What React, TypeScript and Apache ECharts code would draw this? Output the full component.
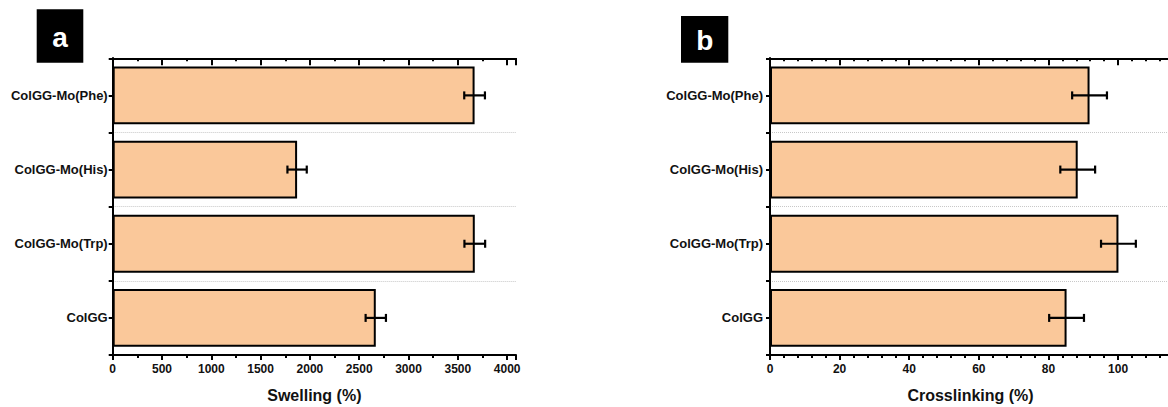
import React, { useEffect, useRef } from "react";
import * as echarts from "echarts";

const categories = ["ColGG", "ColGG-Mo(Trp)", "ColGG-Mo(His)", "ColGG-Mo(Phe)"];
const swellingMean = [2668, 3672, 1870, 3670];
const swellingErr = [103, 105, 98, 105];
const crossMean = [85.2, 100.1, 88.4, 91.8];
const crossErr = [5.0, 5.0, 5.0, 5.0];
const swellingTicks = { min: 0, max: 4090, major: 500, minor: 250 };
const crossTicks = { min: 0, max: 115.2, major: 20, minor: 4 };
const panelLetters = ["a", "b"];

const FONT = "Liberation Sans, Arial, Helvetica, sans-serif";
const BAR_FILL = "#FAC89A";

function errorRender(params: any, api: any) {
  const v = api.value(0);
  const c = api.value(1);
  const e = api.value(2);
  const lo = api.coord([v - e, c]);
  const hi = api.coord([v + e, c]);
  const h = 4;
  const st = { stroke: "#000", lineWidth: 2.2 };
  return {
    type: "group",
    children: [
      { type: "line", shape: { x1: lo[0], y1: lo[1], x2: hi[0], y2: hi[1] }, style: st },
      { type: "line", shape: { x1: lo[0], y1: lo[1] - h, x2: lo[0], y2: lo[1] + h }, style: st },
      { type: "line", shape: { x1: hi[0], y1: hi[1] - h, x2: hi[0], y2: hi[1] + h }, style: st },
    ],
  };
}

function xAxes(gridIndex: number, t: any, name: string) {
  const base = { type: "value", gridIndex, min: t.min, max: t.max, splitLine: { show: false } };
  const line = { show: true, lineStyle: { color: "#000", width: 2 } };
  return [
    {
      ...base,
      position: "bottom",
      interval: t.major,
      axisLine: line,
      axisTick: { show: true, length: 5, lineStyle: { color: "#000", width: 2 } },
      axisLabel: {
        show: true,
        margin: 8,
        fontFamily: FONT,
        fontWeight: "bold",
        fontSize: 12,
        color: "#111",
        formatter: (v: number) => (Math.abs(v / t.major - Math.round(v / t.major)) < 1e-6 ? String(v) : ""),
      },
      name,
      nameLocation: "middle",
      nameGap: 32,
      nameTextStyle: { fontFamily: FONT, fontWeight: "bold", fontSize: 16, color: "#111" },
    },
    {
      ...base,
      position: "bottom",
      interval: t.minor,
      axisLine: { show: false },
      axisTick: { show: true, length: 3, lineStyle: { color: "#000", width: 2 } },
      axisLabel: { show: false },
    },
    {
      ...base,
      position: "top",
      interval: t.major,
      axisLine: line,
      axisTick: { show: true, inside: true, length: 7, lineStyle: { color: "#000", width: 2 } },
      axisLabel: { show: false },
    },
    {
      ...base,
      position: "top",
      interval: t.minor,
      axisLine: { show: false },
      axisTick: { show: true, inside: true, length: 3, lineStyle: { color: "#000", width: 2 } },
      axisLabel: { show: false },
    },
  ];
}

function yAxes(gridIndex: number, labelMargin: number) {
  return [
    {
      type: "category",
      gridIndex,
      position: "left",
      data: categories,
      axisLine: { show: true, lineStyle: { color: "#000", width: 2 } },
      axisTick: { show: true, length: 3, lineStyle: { color: "#000", width: 2 } },
      axisLabel: { margin: labelMargin, fontFamily: FONT, fontWeight: "bold", fontSize: 13, color: "#111" },
      splitLine: { show: true, lineStyle: { color: "#c8c8c8", type: "dotted", width: 1 } },
    },
    {
      type: "value",
      gridIndex,
      position: "right",
      min: 0,
      max: categories.length,
      interval: 0.5,
      axisLine: { show: true, lineStyle: { color: "#000", width: 2 } },
      axisTick: { show: true, inside: true, length: 4, lineStyle: { color: "#000", width: 2 } },
      axisLabel: { show: false },
      splitLine: { show: false },
    },
  ];
}

function barSeries(xi: number, yi: number, data: number[]) {
  return {
    type: "bar",
    xAxisIndex: xi,
    yAxisIndex: yi,
    data,
    barCategoryGap: "22%",
    itemStyle: { color: BAR_FILL, borderColor: "#000", borderWidth: 2 },
    z: 2,
  };
}

function errSeries(xi: number, yi: number, mean: number[], err: number[]) {
  return {
    type: "custom",
    xAxisIndex: xi,
    yAxisIndex: yi,
    renderItem: errorRender,
    encode: { x: 0, y: 1 },
    data: mean.map((m, i) => [m, i, err[i]]),
    z: 5,
  };
}

export default function App() {
  const ref = useRef<HTMLDivElement>(null);
  useEffect(() => {
    if (!ref.current) return;
    const chart = echarts.init(ref.current, undefined, { renderer: "svg" });
    chart.setOption({
      animation: false,
      backgroundColor: "#fff",
      grid: [
        { left: 112.7, top: 58.3, width: 403.3, height: 296.7, outerBoundsMode: "none", containLabel: false },
        { left: 770, top: 58.3, width: 401, height: 296.7, outerBoundsMode: "none", containLabel: false },
      ],
      xAxis: [...xAxes(0, swellingTicks, "Swelling (%)"), ...xAxes(1, crossTicks, "Crosslinking (%)")],
      yAxis: [...yAxes(0, 5), ...yAxes(1, 7)],
      series: [
        barSeries(0, 0, swellingMean),
        errSeries(0, 0, swellingMean, swellingErr),
        barSeries(4, 2, crossMean),
        errSeries(4, 2, crossMean, crossErr),
      ],
      graphic: [
        { type: "rect", shape: { x: 36.7, y: 9.3, width: 46.6, height: 53.4 }, style: { fill: "#000" } },
        {
          type: "text",
          x: 60,
          y: 37.5,
          style: { text: panelLetters[0], fill: "#fff", fontFamily: FONT, fontWeight: "bold", fontSize: 28, align: "center", verticalAlign: "middle" },
        },
        { type: "rect", shape: { x: 681, y: 16, width: 47.3, height: 46.7 }, style: { fill: "#000" } },
        {
          type: "text",
          x: 704.7,
          y: 40,
          style: { text: panelLetters[1], fill: "#fff", fontFamily: FONT, fontWeight: "bold", fontSize: 28, align: "center", verticalAlign: "middle" },
        },
      ],
    });
    return () => chart.dispose();
  }, []);
  return (
    <div
      ref={ref}
      style={{ position: "fixed", left: 0, top: 0, width: 1168, height: 407, background: "#fff" }}
    />
  );
}
